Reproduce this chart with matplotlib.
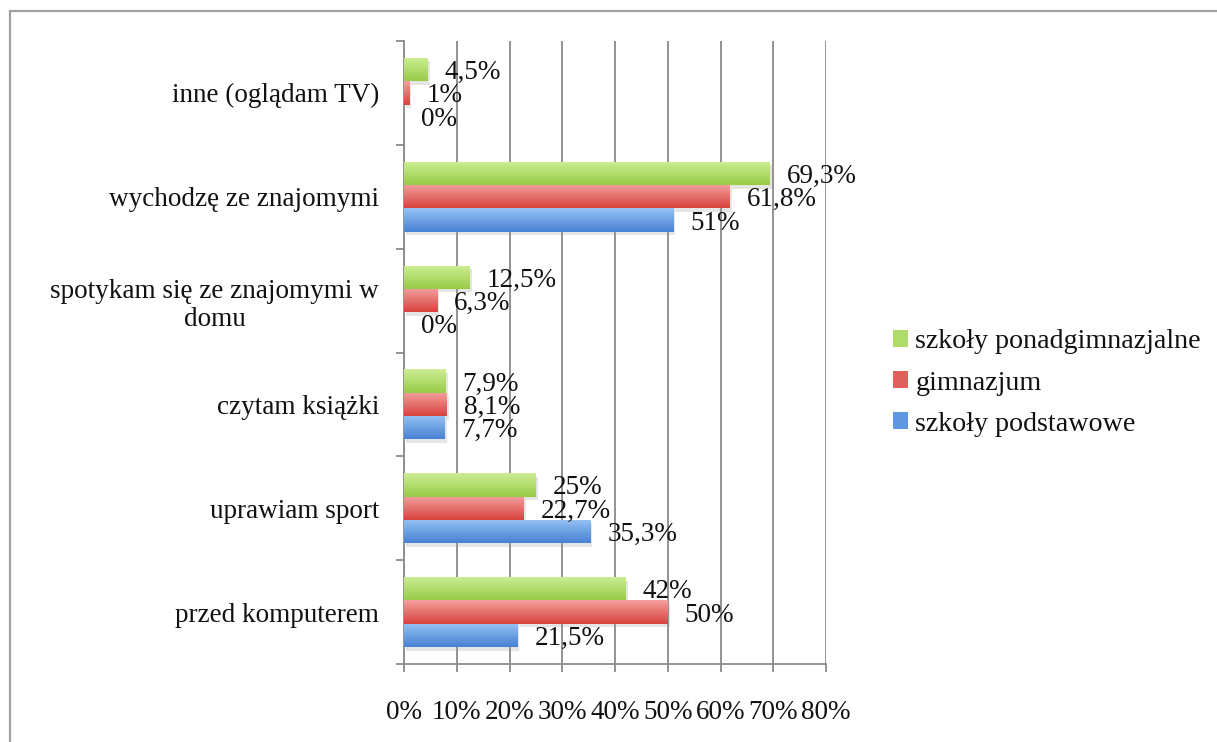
import matplotlib
matplotlib.use("Agg")
import matplotlib.pyplot as plt
import numpy as np
from matplotlib.patches import Rectangle, Patch
from matplotlib.colors import LinearSegmentedColormap
import matplotlib.patheffects as pe

categories = ["przed komputerem", "uprawiam sport", "czytam książki",
              "spotykam się ze znajomymi w\ndomu", "wychodzę ze znajomymi",
              "inne (oglądam TV)"]
series_names = ["szkoły ponadgimnazjalne", "gimnazjum", "szkoły podstawowe"]
ponadgimnazjalne = [42, 25, 7.9, 12.5, 69.3, 4.5]
gimnazjum = [50, 22.7, 8.1, 6.3, 61.8, 1]
podstawowe = [21.5, 35.3, 7.7, 0, 51, 0]
x_ticks = [0, 10, 20, 30, 40, 50, 60, 70, 80]
x_tick_labels = ["0%", "10%", "20%", "30%", "40%", "50%", "60%", "70%", "80%"]

# gradient (top, bottom) colors per series
grad = [("#cdee95", "#98cb48"), ("#f4a09e", "#d8433f"), ("#97c2f4", "#4782d4")]
legend_colors = ["#aedb6a", "#e0605c", "#5f97e0"]

FONT = "Liberation Serif"
FS = 19.5
plt.rcParams['font.family'] = [FONT, 'DejaVu Serif']

W, H = 1217, 742
fig = plt.figure(figsize=(W / 100, H / 100), dpi=100)
ax = fig.add_axes([404 / W, 1 - 664 / H, (826 - 404) / W, (664 - 41) / H])

n = len(categories)
y = np.arange(n) + 0.5
bh = 0.225
offsets = [bh, 0, -bh]
values = [ponadgimnazjalne, gimnazjum, podstawowe]

ax.set_xlim(0, 80)
ax.set_ylim(0, n)

for si, (vals, off) in enumerate(zip(values, offsets)):
    bars = ax.barh(y + off, vals, height=bh, color=legend_colors[si], zorder=3,
                   linewidth=0,
                   path_effects=[pe.SimplePatchShadow(offset=(1.5, -2.5), shadow_rgbFace="#999999", alpha=0.25),
                                 pe.Normal()])
    cmap = LinearSegmentedColormap.from_list("g", [grad[si][1], grad[si][0]])
    for b, v in zip(bars, vals):
        if b.get_width() <= 0:
            continue
        x0, y0, w, h = b.get_x(), b.get_y(), b.get_width(), b.get_height()
        img = ax.imshow(np.linspace(0, 1, 50).reshape(-1, 1), cmap=cmap, origin="lower",
                        extent=(x0, x0 + w, y0, y0 + h), aspect="auto", zorder=4)
        img.set_clip_path(b)
    for b, v in zip(bars, vals):
        lab = f"{v:g}%".replace(".", ",")
        ax.annotate(lab, xy=(b.get_width(), b.get_y() + b.get_height() / 2),
                    xytext=(17, -3), textcoords="offset pixels", ha="left", va="center",
                    fontsize=FS, color="#111111", zorder=6)

ax.set_aspect("auto")
ax.set_xlim(0, 80)
ax.set_ylim(0, n)

gridc = "#8a8a8a"
ax.set_xticks(x_ticks)
ax.set_xticklabels(x_tick_labels, fontsize=FS, color="#111111")
ax.xaxis.grid(True, color=gridc, linewidth=1.3, zorder=0)
ax.set_axisbelow(True)
ax.tick_params(axis="x", length=6, width=1.3, color=gridc, pad=20, direction="out")

ax.set_yticks(np.arange(n + 1))
ax.set_yticklabels([])
ax.tick_params(axis="y", which="major", length=6, width=1.3, color=gridc, direction="out")
ax.set_yticks(y, minor=True)
ax.set_yticklabels(categories, minor=True, fontsize=FS, color="#111111",
                   multialignment="center")
ax.tick_params(axis="y", which="minor", length=0, pad=18)

for s in ["top", "right"]:
    ax.spines[s].set_visible(False)
for s in ["left", "bottom"]:
    ax.spines[s].set_color(gridc)
    ax.spines[s].set_linewidth(1.3)

handles = [Patch(facecolor=c, edgecolor="none") for c in legend_colors]
leg = fig.legend(handles, series_names, loc="center left",
                 bbox_to_anchor=(893 / W, 1 - 383 / H), bbox_transform=fig.transFigure,
                 frameon=False, fontsize=20.2, handlelength=0.55, handleheight=0.55,
                 handletextpad=0.25, labelspacing=0.58, borderpad=0, borderaxespad=0)
for t in leg.get_texts():
    t.set_color("#111111")

frame = Rectangle((10 / W, -0.05), 1.1, 1 - 11 / H + 0.05, transform=fig.transFigure,
                  fill=False, edgecolor="#a0a0a0", linewidth=1.6)
fig.patches.append(frame)

fig.savefig("out.png", dpi=100)
